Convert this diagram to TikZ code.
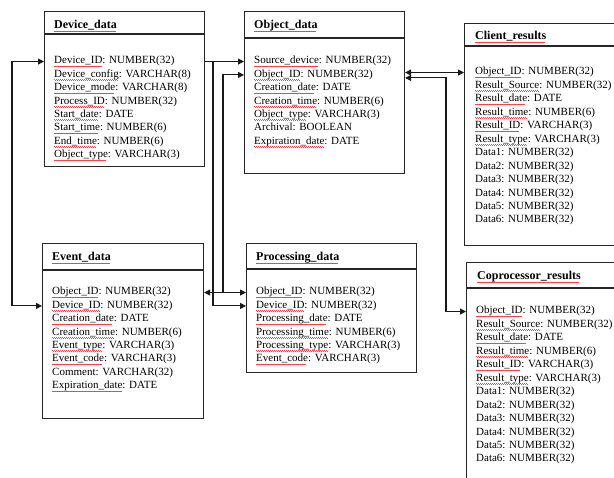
\documentclass[tikz,border=0pt]{standalone}
\usepackage{fontspec}
\setmainfont{Liberation Serif}
\usepackage{xcolor}
\usetikzlibrary{arrows.meta}
% red wavy underline for the column names
\newsavebox\sqbox
\newcommand\sq[1]{\sbox\sqbox{#1}\rlap{\usebox\sqbox}{\color{red!75}\leaders\hbox to 2pt{\rule[-2.2pt]{1pt}{0.35pt}\rule[-2.7pt]{1pt}{0.35pt}}\hskip\wd\sqbox}}
\begin{document}
\begin{tikzpicture}[x=1pt,y=-1pt,
  tbl/.style={draw=black!85, line width=1.1pt, rectangle, inner sep=0pt, anchor=north west},
  rule/.style={draw=black!85, line width=1.1pt},
  hdr/.style={anchor=base west, inner sep=0pt, font=\fontsize{12}{14}\selectfont\bfseries},
  rowtxt/.style={anchor=base west, inner sep=0pt, font=\fontsize{11}{13}\selectfont},
  link/.style={draw=black!90, line width=1.1pt},
  >={Triangle[length=6pt,width=6pt]}]
\useasboundingbox (0,0) rectangle (614,478);
\clip (0,0) rectangle (614,478);

% Device_data
\node[tbl, minimum width=160pt, minimum height=155pt] (dev) at (44,11) {};
\draw[rule] ([yshift=-23pt]dev.north west) -- ([yshift=-23pt]dev.north east);
\node[hdr] (dev-h) at (54,29) {\sq{Device\_data}};
\foreach \t [count=\i] in {\sq{Device\_ID}: NUMBER(32), \sq{Device\_config}: VARCHAR(8), \sq{Device\_mode}: VARCHAR(8), \sq{Process\_ID}: NUMBER(32), \sq{Start\_date}: DATE, \sq{Start\_time}: NUMBER(6), \sq{End\_time}: NUMBER(6), \sq{Object\_type}: VARCHAR(3)}
  \node[rowtxt] (dev-\i) at (54,{64+13.4*(\i-1)}) {\t};

% Object_data
\node[tbl, minimum width=160pt, minimum height=162pt] (ob) at (244,11) {};
\draw[rule] ([yshift=-27pt]ob.north west) -- ([yshift=-27pt]ob.north east);
\node[hdr] (ob-h) at (254,29) {\sq{Object\_data}};
\foreach \t [count=\i] in {\sq{Source\_device}: NUMBER(32), \sq{Object\_ID}: NUMBER(32), \sq{Creation\_date}: DATE, \sq{Creation\_time}: NUMBER(6), \sq{Object\_type}: VARCHAR(3), Archival: BOOLEAN, \sq{Expiration\_date}: DATE}
  \node[rowtxt] (ob-\i) at (254,{64+13.4*(\i-1)}) {\t};

% Client_results
\node[tbl, minimum width=170pt, minimum height=222pt] (cl) at (464,23) {};
\draw[rule] ([yshift=-23pt]cl.north west) -- ([yshift=-23pt]cl.north east);
\node[hdr] (cl-h) at (475,40) {\sq{Client\_results}};
\foreach \t [count=\i] in {\sq{Object\_ID}: NUMBER(32), \sq{Result\_Source}: NUMBER(32), \sq{Result\_date}: DATE, \sq{Result\_time}: NUMBER(6), \sq{Result\_ID}: VARCHAR(3), \sq{Result\_type}: VARCHAR(3), Data1: NUMBER(32), Data2: NUMBER(32), Data3: NUMBER(32), Data4: NUMBER(32), Data5: NUMBER(32), Data6: NUMBER(32)}
  \node[rowtxt] (cl-\i) at (475,{75+13.45*(\i-1)}) {\t};

% Event_data
\node[tbl, minimum width=161pt, minimum height=175pt] (ev) at (42,243) {};
\draw[rule] ([yshift=-27pt]ev.north west) -- ([yshift=-27pt]ev.north east);
\node[hdr] (ev-h) at (52,261) {\sq{Event\_data}};
\foreach \t [count=\i] in {\sq{Object\_ID}: NUMBER(32), \sq{Device\_ID}: NUMBER(32), \sq{Creation\_date}: DATE, \sq{Creation\_time}: NUMBER(6), \sq{Event\_type}: VARCHAR(3), \sq{Event\_code}: VARCHAR(3), Comment: VARCHAR(32), \sq{Expiration\_date}: DATE}
  \node[rowtxt] (ev-\i) at (52,{295+13.4*(\i-1)}) {\t};

% Processing_data
\node[tbl, minimum width=170pt, minimum height=129pt] (pr) at (246,243) {};
\draw[rule] ([yshift=-26pt]pr.north west) -- ([yshift=-26pt]pr.north east);
\node[hdr] (pr-h) at (256,261) {\sq{Processing\_data}};
\foreach \t [count=\i] in {\sq{Object\_ID}: NUMBER(32), \sq{Device\_ID}: NUMBER(32), \sq{Processing\_date}: DATE, \sq{Processing\_time}: NUMBER(6), \sq{Processing\_type}: VARCHAR(3), \sq{Event\_code}: VARCHAR(3)}
  \node[rowtxt] (pr-\i) at (256,{295+13.4*(\i-1)}) {\t};

% Coprocessor_results
\node[tbl, minimum width=170pt, minimum height=240pt] (cp) at (466,262) {};
\draw[rule] ([yshift=-26pt]cp.north west) -- ([yshift=-26pt]cp.north east);
\node[hdr] (cp-h) at (477,280) {\sq{Coprocessor\_results}};
\foreach \t [count=\i] in {\sq{Object\_ID}: NUMBER(32), \sq{Result\_Source}: NUMBER(32), \sq{Result\_date}: DATE, \sq{Result\_time}: NUMBER(6), \sq{Result\_ID}: VARCHAR(3), \sq{Result\_type}: VARCHAR(3), Data1: NUMBER(32), Data2: NUMBER(32), Data3: NUMBER(32), Data4: NUMBER(32), Data5: NUMBER(32), Data6: NUMBER(32)}
  \node[rowtxt] (cp-\i) at (476,{314+13.45*(\i-1)}) {\t};

% routing columns
\coordinate (lx) at (12,0);
\coordinate (j1) at (213,0);
\coordinate (j2) at (223,0);
\coordinate (j3) at (446,0);
\path (ob-2.west -| ob.east) ++(0,3) coordinate (obr);

% relationships
\draw[link,<->] (dev-1.west -| dev.west) -- (dev-1.west -| lx) |- (ev-2.west -| ev.west);
\draw[link,->] (dev-1.west -| dev.east) -- (ob-1.west -| ob.west);
\draw[link,->] (dev-1.west -| j1) |- (pr-2.west -| pr.west);
\draw[link,->] (ev-1.west -| j2) |- (ob-2.west -| ob.west);
\draw[link,<->] (ev-1.west -| ev.east) -- (pr-1.west -| pr.west);
\draw[link,<->] (cl-1.west -| ob.east) -- (cl-1.west -| cl.west);
\draw[link,<->] (obr) -- (obr -| j3) |- (cp-1.west -| cp.west);
\end{tikzpicture}
\end{document}
